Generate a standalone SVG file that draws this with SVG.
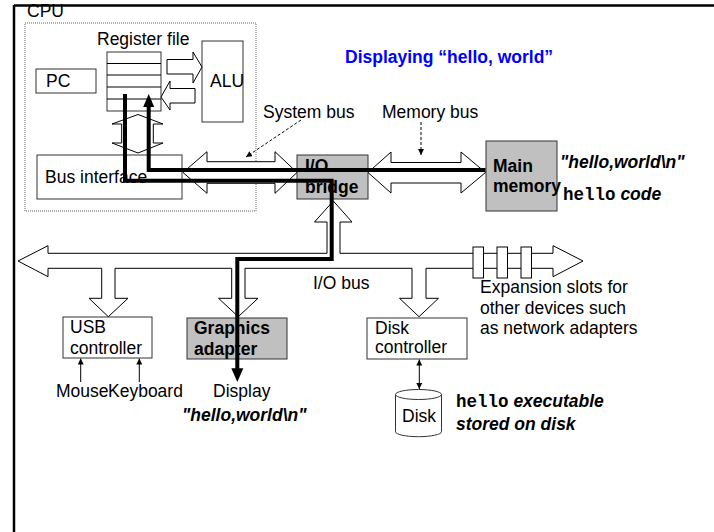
<svg xmlns="http://www.w3.org/2000/svg" width="714" height="532" viewBox="0 0 714 532">
<defs>
<style>
text{font-family:"Liberation Sans",Arial,sans-serif;font-size:17.5px;fill:#000}
.b{font-weight:bold}
.bi{font-weight:bold;font-style:italic}
.mono{font-family:"Liberation Mono","Courier New",monospace;font-weight:bold;font-style:normal}
.box{fill:#fff;stroke:#333;stroke-width:1}
.gbox{fill:#c0c0c0;stroke:#333;stroke-width:1}
.blk{fill:#fff;stroke:#000;stroke-width:1}
.thin{fill:none;stroke:#000;stroke-width:1}
.dash{fill:none;stroke:#000;stroke-width:1;stroke-dasharray:3 2}
.thick{fill:none;stroke:#000;stroke-width:4}
</style>
<marker id="ah" viewBox="0 0 10 10" refX="10" refY="5" markerWidth="6" markerHeight="6" orient="auto-start-reverse" markerUnits="userSpaceOnUse">
<path d="M0,0 L10,5 L0,10 Z" fill="#000"/>
</marker>
</defs>
<rect width="714" height="532" fill="#fff"/>
<g id="frame">
<line x1="14" y1="5.5" x2="714" y2="5.5" stroke="#000" stroke-width="2.5"/>
<line x1="14" y1="5" x2="14" y2="532" stroke="#000" stroke-width="2.5"/>
</g>
<g id="cpu">
<rect x="25" y="23" width="231" height="188" fill="none" stroke="#666" stroke-width="1" stroke-dasharray="1 1"/>
<text x="27" y="17">CPU</text>
</g>
<g id="title"><text x="345" y="63" class="b" style="fill:#0000ff">Displaying “hello, world”</text></g>
<g id="pc"><rect class="box" x="36" y="69" width="60" height="24"/><text x="46" y="87">PC</text></g>
<g id="regfile">
<text x="97" y="45">Register file</text>
<rect class="box" x="107" y="52" width="54" height="59"/>
<path class="thin" stroke="#333" d="M107,63.5H161M107,75H161M107,87H161M107,99H161"/>
</g>
<g id="alu"><rect class="box" x="202" y="41" width="41" height="81"/><text x="210" y="87">ALU</text></g>
<g id="busif"><rect class="box" x="37" y="155" width="145" height="44"/><text x="45" y="183">Bus interface</text></g>
<g id="bridge"><rect class="gbox" x="297" y="155" width="71" height="44"/><text x="305" y="172" class="b">I/O</text><text x="305" y="193" class="b">bridge</text></g>
<g id="mainmem"><rect class="gbox" x="486" y="141" width="71" height="70"/><text x="493" y="172" class="b">Main</text><text x="493" y="192" class="b">memory</text></g>
<g id="usb"><rect class="box" x="63" y="317" width="89" height="41"/><text x="70" y="333">USB</text><text x="70" y="354">controller</text></g>
<g id="graphics"><rect class="gbox" x="187" y="318" width="100" height="41"/><text x="194" y="334" class="b">Graphics</text><text x="194" y="355" class="b">adapter</text></g>
<g id="diskctl"><rect class="box" x="367" y="318" width="100" height="41"/><text x="375" y="334">Disk</text><text x="375" y="353">controller</text></g>
<g id="disk">
<path class="box" d="M395.5,394.5 V431.7 A23,5 0 0 0 441.5,431.7 V394.5"/>
<ellipse class="box" cx="418.5" cy="394.5" rx="23" ry="5"/>
<text x="402" y="422">Disk</text>
</g>
<g id="labels">
<text x="263" y="118">System bus</text>
<text x="382" y="118">Memory bus</text>
<text x="560" y="168" class="bi">"hello,world\n"</text>
<text x="563" y="200" class="bi"><tspan class="mono">hello</tspan> code</text>
<text x="313" y="289">I/O bus</text>
<text x="480" y="293">Expansion slots for</text>
<text x="480" y="313.5">other devices such</text>
<text x="480" y="334">as network adapters</text>
<text x="56" y="397">Mouse</text>
<text x="108" y="397">Keyboard</text>
<text x="213" y="397">Display</text>
<text x="182" y="421" class="bi">"hello,world\n"</text>
<text x="456" y="407" class="bi"><tspan class="mono">hello</tspan> executable</text>
<text x="456" y="430" class="bi">stored on disk</text>
</g>
<g id="connectors">
<polygon class="blk" points="167,59.5 193,59.5 193,52 202,67 193,83 193,74 167,74"/>
<polygon class="blk" points="195,88.5 170,88.5 170,81 161,97 170,110 170,103 195,103"/>
<polygon class="blk" points="138,114.5 163,124 153.3,124 153.3,143 163,143 138,153 112,143 121.7,143 121.7,124 112,124"/>
<polygon class="blk" points="183,172.5 207,151.7 207,161.7 275,161.7 275,151.7 297,172.5 275,193.3 275,183.3 207,183.3 207,193.3"/>
<polygon class="blk" points="368,172.5 391,152 391,162.5 461,162.5 461,152 485.5,172.5 461,193 461,183 391,183 391,193"/>
<polygon class="blk" points="18,261 48,245.7 48,253.3 327,253.3 327,222 314.5,222 333.3,201 352,222 340,222 340,253.3 553,253.3 553,245.7 583,261 553,276.7 553,268.3 426,268.3 426,298.3 438.5,298.3 419,316.7 399.5,298.3 412,298.3 412,268.3 245,268.3 245,298.3 258,298.3 238.3,316.7 218.5,298.3 231.7,298.3 231.7,268.3 115,268.3 115,298.3 128,298.3 108.3,316.7 89,298.3 101.7,298.3 101.7,268.3 48,268.3 48,276.7"/>
<rect class="blk" x="473" y="247" width="10.5" height="31"/>
<rect class="blk" x="497" y="247" width="10.5" height="31"/>
<rect class="blk" x="521" y="247" width="10.5" height="31"/>
<line class="dash" x1="301" y1="120" x2="246" y2="157" marker-end="url(#ah)"/>
<line class="dash" x1="421" y1="122" x2="421" y2="155" marker-end="url(#ah)"/>
<line class="thin" x1="80.7" y1="382" x2="80.7" y2="358.5" marker-end="url(#ah)"/>
<line class="thin" x1="139.3" y1="382" x2="139.3" y2="358.5" marker-end="url(#ah)"/>
<line class="thin" x1="419.3" y1="359.5" x2="419.3" y2="389" marker-start="url(#ah)" marker-end="url(#ah)"/>
<path class="thick" d="M485.5,170H148.7V105"/>
<polygon points="143.2,107 154.2,107 148.7,94" fill="#000"/>
<path class="thick" d="M125,94V180.7H331.7V259H237.3V369"/>
<polygon points="231.3,368.3 243.3,368.3 237.3,382" fill="#000"/>
</g>
</svg>
